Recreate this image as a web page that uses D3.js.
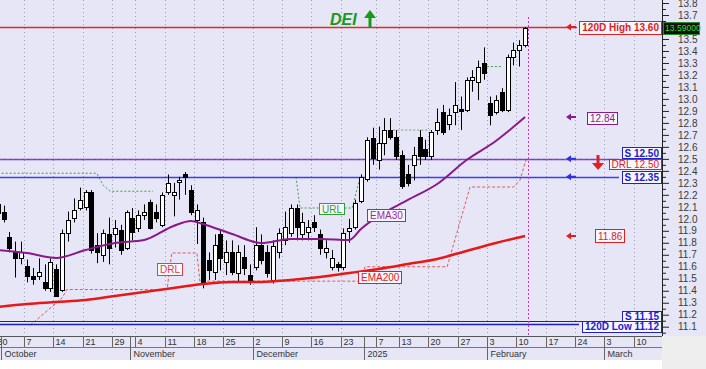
<!DOCTYPE html>
<html><head><meta charset="utf-8">
<script src="https://cdn.jsdelivr.net/npm/d3@7"></script>
<style>body{margin:0;background:#fff;} svg{display:block;font-family:"Liberation Sans",Arial,sans-serif;}</style>
</head><body><svg id="c" width="706" height="369"></svg>
<script>
// ---------- DATA ----------
const ticker = "DEI";
const openV  = [12.12,12.06,11.85,11.72,11.67,11.61,11.52,11.52,11.47,11.42,11.58,11.41,11.88,12.01,12.09,12.10,12.22,11.78,11.70,11.87,11.87,11.91,11.76,12.01,11.92,12.03,12.14,12.06,11.95,12.22,12.20,12.31,12.37,12.24,11.99,11.97,11.66,11.56,11.87,11.64,11.72,11.55,11.68,11.53,11.60,11.78,11.72,11.49,11.72,11.82,11.88,12.09,11.87,11.89,11.97,11.87,11.72,11.60,11.62,11.60,11.90,11.93,12.15,12.33,12.67,12.49,12.63,12.74,12.68,12.53,12.37,12.45,12.68,12.58,12.52,12.74,12.89,12.79,12.89,12.92,12.91,13.16,13.14,13.30,12.97,12.89,13.06,12.91,13.35,13.41,13.45];
const highV  = [12.15,12.11,11.89,11.81,11.81,11.66,11.59,11.67,11.62,11.67,11.62,11.91,12.06,12.17,12.26,12.24,12.24,11.88,11.91,12.01,11.99,11.95,12.07,12.09,12.07,12.12,12.16,12.12,12.22,12.37,12.30,12.35,12.39,12.28,12.12,12.01,11.72,11.87,11.91,11.82,11.82,11.78,11.78,11.62,11.93,11.87,11.78,11.82,11.92,12.06,12.12,12.12,12.05,11.99,12.03,11.91,11.82,11.74,11.64,11.92,12.00,12.16,12.37,12.68,12.76,12.77,12.84,12.84,12.74,12.57,12.45,12.60,12.74,12.66,12.74,12.92,12.95,12.92,13.14,13.02,13.18,13.24,13.32,13.43,13.02,13.03,13.09,13.37,13.47,13.49,13.60];
const lowV   = [12.02,11.97,11.72,11.51,11.62,11.47,11.45,11.49,11.40,11.39,11.35,11.39,11.81,11.97,12.07,12.07,11.71,11.63,11.64,11.62,11.76,11.70,11.74,11.82,11.89,11.99,11.91,11.97,11.93,12.20,12.02,12.16,12.20,12.03,11.79,11.42,11.49,11.49,11.57,11.53,11.53,11.47,11.53,11.45,11.57,11.62,11.51,11.46,11.67,11.78,11.85,11.82,11.82,11.82,11.89,11.70,11.67,11.57,11.56,11.57,11.80,11.91,12.13,12.31,12.45,12.41,12.53,12.66,12.49,12.25,12.27,12.32,12.45,12.49,12.49,12.70,12.70,12.74,12.78,12.74,12.89,13.06,12.99,13.16,12.78,12.87,12.89,12.89,13.28,13.27,13.43];
const closeV = [12.05,12.00,11.76,11.67,11.72,11.52,11.50,11.56,11.42,11.64,11.36,11.88,11.99,12.07,12.16,12.22,11.74,11.72,11.88,11.76,11.92,11.74,12.06,11.89,12.03,12.06,11.92,12.01,12.20,12.30,12.22,12.32,12.35,12.06,12.07,11.47,11.57,11.78,11.67,11.72,11.56,11.72,11.59,11.47,11.78,11.66,11.55,11.77,11.88,11.93,12.09,11.93,11.97,11.93,11.93,11.76,11.76,11.67,11.60,11.88,11.92,12.13,12.35,12.66,12.51,12.63,12.74,12.68,12.52,12.27,12.30,12.53,12.52,12.52,12.72,12.81,12.72,12.87,12.95,12.90,13.16,13.18,13.27,13.22,12.87,12.99,12.91,13.35,13.41,13.45,13.59];

const emaSlots = [0,5,10,15,20,25,30,33,35,40,45,50,55,60,62,65,70,75,80,85,90];
const ema30V  = [11.74,11.715,11.673,11.74,11.798,11.823,11.94,11.982,11.957,11.873,11.798,11.832,11.832,11.823,11.915,12.024,12.157,12.29,12.49,12.649,12.849];
const ema200V = [11.265,11.29,11.306,11.323,11.356,11.39,11.423,11.444,11.456,11.473,11.473,11.49,11.515,11.548,11.561,11.582,11.623,11.665,11.732,11.798,11.857];

// URL (green dotted) and DRL (red dashed) step lines: [slot, price]
const urlSegs = [
  [[0,12.38],[16.9,12.38],[18,12.28],[19.2,12.23],[26.5,12.23]],
  [[50.9,12.35],[51.6,12.09],[60.5,12.09],[61.8,12.34]],
  [[67.5,12.74],[73.8,12.74]],
  [[82.8,13.27],[86,13.27]]
];
const drlPath = [[5.5,11.11],[11,11.34],[11.8,11.41],[28.9,11.41],[29.7,11.715],[34,11.715],[34.5,11.48],[61.8,11.48],[62.7,11.60],[76.7,11.60],[80.6,12.265],[88,12.265],[89.1,12.32],[90.2,12.50]];

const yTickLabels = ["11.1","11.2","11.3","11.4","11.5","11.6","11.7","11.8","11.9","12.0","12.1","12.2","12.3","12.4","12.5","12.6","12.7","12.8","12.9","13.0","13.1","13.2","13.3","13.4","13.5","13.6","13.7","13.8"];
const tickDates = ["2024-09-30","2024-10-07","2024-10-14","2024-10-21","2024-10-29","2024-11-04","2024-11-11","2024-11-18","2024-11-25","2024-12-02","2024-12-09","2024-12-16","2024-12-23","2025-01-07","2025-01-13","2025-01-20","2025-01-27","2025-02-03","2025-02-10","2025-02-17","2025-02-24","2025-03-03","2025-03-10"];
const monthStarts = ["2024-10-01","2024-11-01","2024-12-01","2025-01-01","2025-02-01","2025-03-01"];
const monthNames  = ["October","November","December","2025","February","March"];
const skipDays = ["2024-10-28","2024-12-25","2024-12-26","2024-12-27","2025-01-01","2025-01-03"];

const high120 = 13.60, low120 = 11.12, lastPrice = 13.59;
const support1 = 12.50, support2 = 12.35, support3 = 11.15, drlLevel = 12.50;

// ---------- SLOTS ----------
const slotDates = [];
for (let d = new Date(Date.UTC(2024,8,30)); d <= new Date(Date.UTC(2025,2,14)); d.setUTCDate(d.getUTCDate()+1)) {
  const wd = d.getUTCDay(); if (wd===0||wd===6) continue;
  const s = d.toISOString().slice(0,10); if (skipDays.includes(s)) continue;
  slotDates.push(s);
}
const slotOf = s => slotDates.findIndex(d => d >= s);

// ---------- LAYOUT ----------
const W=706,H=369,plotB=336,axisX=662;
const BG="#e6e6f6";
const x = d3.scaleLinear().domain([0,109]).range([-2.3,-2.3+109*5.86]);
const y = d3.scaleLinear().domain([11.1,13.7]).range([326.7,15]);
const svg = d3.select("#c");

svg.append("rect").attr("width",W).attr("height",H).attr("fill","#fff");
svg.append("rect").attr("width",W).attr("height",plotB).attr("fill",BG);
svg.append("rect").attr("x",0).attr("y",plotB).attr("width",axisX).attr("height",24).attr("fill",BG);
svg.append("rect").attr("x",axisX).attr("y",plotB).attr("width",W-axisX).attr("height",H-plotB).attr("fill","#eeeeee");

const plot = svg.append("g");
// vertical dotted grid
tickDates.forEach(td => {
  const xx = Math.round(x(slotOf(td)-0.5))+0.5;
  plot.append("line").attr("x1",xx).attr("x2",xx).attr("y1",0).attr("y2",plotB)
    .attr("stroke","#a0a0b0").attr("stroke-dasharray","1,3");
});

const line = d3.line().x(d=>x(d[0])).y(d=>y(d[1]));
// URL / DRL
urlSegs.forEach((seg,i) => plot.append("path").attr("d",line(seg)).attr("fill","none")
  .attr("stroke", i===2 ? "#7a9a7a" : "#40a040").attr("stroke-width",1).attr("stroke-dasharray","2,2"));
plot.append("path").attr("d",line(drlPath)).attr("fill","none").attr("stroke","#e05a5a").attr("stroke-width",1).attr("stroke-dasharray","3,2");

// horizontal level lines
function hline(v,x2,color,w,dash){
  const yy = Math.round(y(v))+0.5;
  const l = plot.append("line").attr("x1",0).attr("x2",x2).attr("y1",yy).attr("y2",yy).attr("stroke",color).attr("stroke-width",w);
  if (dash) l.attr("stroke-dasharray",dash);
}
hline(high120,577,"#e82828",1.5);
hline(support1,619,"#7a3ac8",1.5);
hline(drlLevel,607,"#e03a3a",1.2,"3,3");
hline(support2,619,"#3c3cff",1.5);
hline(support3,618,"#2020b0",1.2);
hline(low120,579,"#2020b0",1.5);

// purple dotted "today" line
const xt = Math.round(x(slotOf("2025-02-11")+0.5))+0.5;
plot.append("line").attr("x1",xt).attr("x2",xt).attr("y1",17).attr("y2",plotB).attr("stroke","#c040c0").attr("stroke-dasharray","2,2");

// candles
const candles = openV.map((o,i)=>({i,o,h:highV[i],l:lowV[i],c:closeV[i]}));
const cg = plot.append("g");
candles.forEach(d => {
  const cx = Math.round(x(d.i));
  cg.append("line").attr("x1",cx+0.5).attr("x2",cx+0.5).attr("y1",y(d.h)).attr("y2",y(d.l)).attr("stroke","#000");
  const top = Math.round(y(Math.max(d.o,d.c))), bot = Math.round(y(Math.min(d.o,d.c)));
  cg.append("rect").attr("x",cx-1.5).attr("y",top+0.5).attr("width",4).attr("height",Math.max(1,bot-top))
    .attr("fill", d.c>=d.o ? "#fff" : "#000").attr("stroke","#000").attr("stroke-width",1);
});

// EMAs
const emaLine = d3.line().x(d=>x(d[0])).y(d=>y(d[1])).curve(d3.curveMonotoneX);
plot.append("path").attr("d",emaLine(emaSlots.map((s,i)=>[s,ema200V[i]]))).attr("fill","none").attr("stroke","#e81818").attr("stroke-width",2.5);
plot.append("path").attr("d",emaLine(emaSlots.map((s,i)=>[s,ema30V[i]]))).attr("fill","none").attr("stroke","#8a1a8a").attr("stroke-width",2);

// label boxes
function box(txt, xLeft, yc, color, opts={}){
  const g = svg.append("g");
  const r = g.append("rect");
  const t = g.append("text").text(txt).attr("font-size",opts.size||10).attr("fill",color)
    .attr("font-weight",opts.bold?"bold":"normal").attr("dy","0.35em");
  const tw = t.node().getComputedTextLength();
  const bw = tw+5, bh = opts.h||12;
  const x0 = opts.right!=null ? opts.right-bw : xLeft;
  r.attr("x",Math.round(x0)+0.5).attr("y",Math.round(yc-bh/2)+0.5).attr("width",Math.round(bw)).attr("height",bh)
   .attr("fill",opts.fill||"#f6f6ff").attr("stroke",color).attr("stroke-width",1);
  t.attr("x",x0+3).attr("y",yc+0.5);
}
function larrow(yc,color){
  const xx=566;
  svg.append("path").attr("d",`M${xx},${yc} L${xx+5},${yc-3.5} L${xx+5},${yc-1} L${xx+10},${yc-1} L${xx+10},${yc+1} L${xx+5},${yc+1} L${xx+5},${yc+3.5} Z`).attr("fill",color);
}
larrow(y(high120),"#e02020");
larrow(y(ema30V[ema30V.length-1]),"#8a1a8a");
larrow(y(support1),"#3030e0");
larrow(y(support2),"#3030e0");
larrow(y(ema200V[ema200V.length-1]),"#e02020");
// red down arrow for DRL
svg.append("path").attr("d","M596.5,155 L599.5,155 L599.5,163 L604,163 L598,170 L592,163 L596.5,163 Z").attr("fill","#e02020");

box("120D High 13.60",null,y(high120)+0.5,"#e02020",{right:661,bold:true,h:13});
box("12.84",587,y(12.84),"#8a1a8a");
box("S 12.50",null,y(support1)-6,"#2020d0",{right:661,bold:true,h:11});
box("DRL 12.50",null,y(drlLevel)+5,"#e02020",{right:661,h:10});
box("S 12.35",null,y(support2),"#2020d0",{right:661,bold:true,h:12});
box("11.86",595,y(11.86),"#e02020",{h:13});
box("S 11.15",null,y(support3)-5,"#2020d0",{right:661,bold:true,h:10});
box("120D Low 11.12",null,y(low120)+2,"#2020d0",{right:661,bold:true,h:11});

box("URL",319,208.5,"#30a030",{h:11});
box("EMA30",367,215,"#9a2a9a",{h:12});
box("EMA200",358,277,"#e02020",{h:12});
box("DRL",157,269,"#e04040",{h:12});

// right axis
const gAx = svg.append("g").attr("transform",`translate(${axisX},0)`);
gAx.append("line").attr("x1",0.5).attr("x2",0.5).attr("y1",0).attr("y2",plotB).attr("stroke","#222");
const majors = yTickLabels.map(Number);
const minors = [11.05].concat(majors.map(v=>+(v+0.05).toFixed(2))).filter(v=>y(v)>=0&&y(v)<=plotB);
gAx.append("g").call(d3.axisRight(y).tickValues(minors).tickSize(4).tickFormat(""))
  .call(g=>g.select(".domain").remove()).selectAll("line").attr("stroke","#222");
gAx.append("g").call(d3.axisRight(y).tickValues(majors).tickSize(7).tickPadding(9)
    .tickFormat((d,i)=> Math.abs(d-lastPrice) < 0.06 ? "" : yTickLabels[i]))
  .call(g=>g.select(".domain").remove())
  .call(g=>g.selectAll("line").attr("stroke","#222"))
  .call(g=>g.selectAll("text").attr("font-size",10).attr("fill","#3a3a3a").attr("font-family","'Liberation Sans',Arial,sans-serif"));

// last price label (covers the 13.6 tick label as in the source)
const yl = y(lastPrice);
svg.append("rect").attr("x",663.5).attr("y",Math.round(yl-6)+0.5).attr("width",36).attr("height",12).attr("fill","#0c140c").attr("stroke","#2a8a2a");
svg.append("text").attr("x",665).attr("y",yl).attr("dy","0.35em").attr("font-size",8.6).attr("fill","#33dd33").text(lastPrice.toFixed(5));

// title
svg.append("text").attr("x",330).attr("y",25).attr("font-size",16).attr("font-weight","bold").attr("font-style","italic").attr("fill","#189a18").text(ticker);
svg.append("path").attr("d","M368.5,27 L368.5,18 L364,18 L370,10 L376,18 L371.5,18 L371.5,27 Z").attr("fill","#189a18");

// bottom date axis
const ax = svg.append("g");
ax.append("line").attr("x1",0).attr("x2",axisX).attr("y1",plotB+0.5).attr("y2",plotB+0.5).attr("stroke","#555");
ax.append("line").attr("x1",0).attr("x2",axisX).attr("y1",347.5).attr("y2",347.5).attr("stroke","#777");
tickDates.forEach(td => {
  const xx = Math.round(x(slotOf(td)-0.5))+0.5;
  ax.append("line").attr("x1",xx).attr("x2",xx).attr("y1",plotB).attr("y2",347).attr("stroke","#666");
  ax.append("text").attr("x",xx+2).attr("y",345).attr("font-size",9).attr("fill","#333").text(String(+td.slice(8)));
});
monthStarts.forEach((ms,i) => {
  const xx = Math.round(x(slotOf(ms)-0.5))+0.5;
  ax.append("line").attr("x1",xx).attr("x2",xx).attr("y1",plotB).attr("y2",360).attr("stroke","#666");
  ax.append("text").attr("x",xx+3).attr("y",357).attr("font-size",9).attr("fill","#333").text(monthNames[i]);
});
</script></body></html>
